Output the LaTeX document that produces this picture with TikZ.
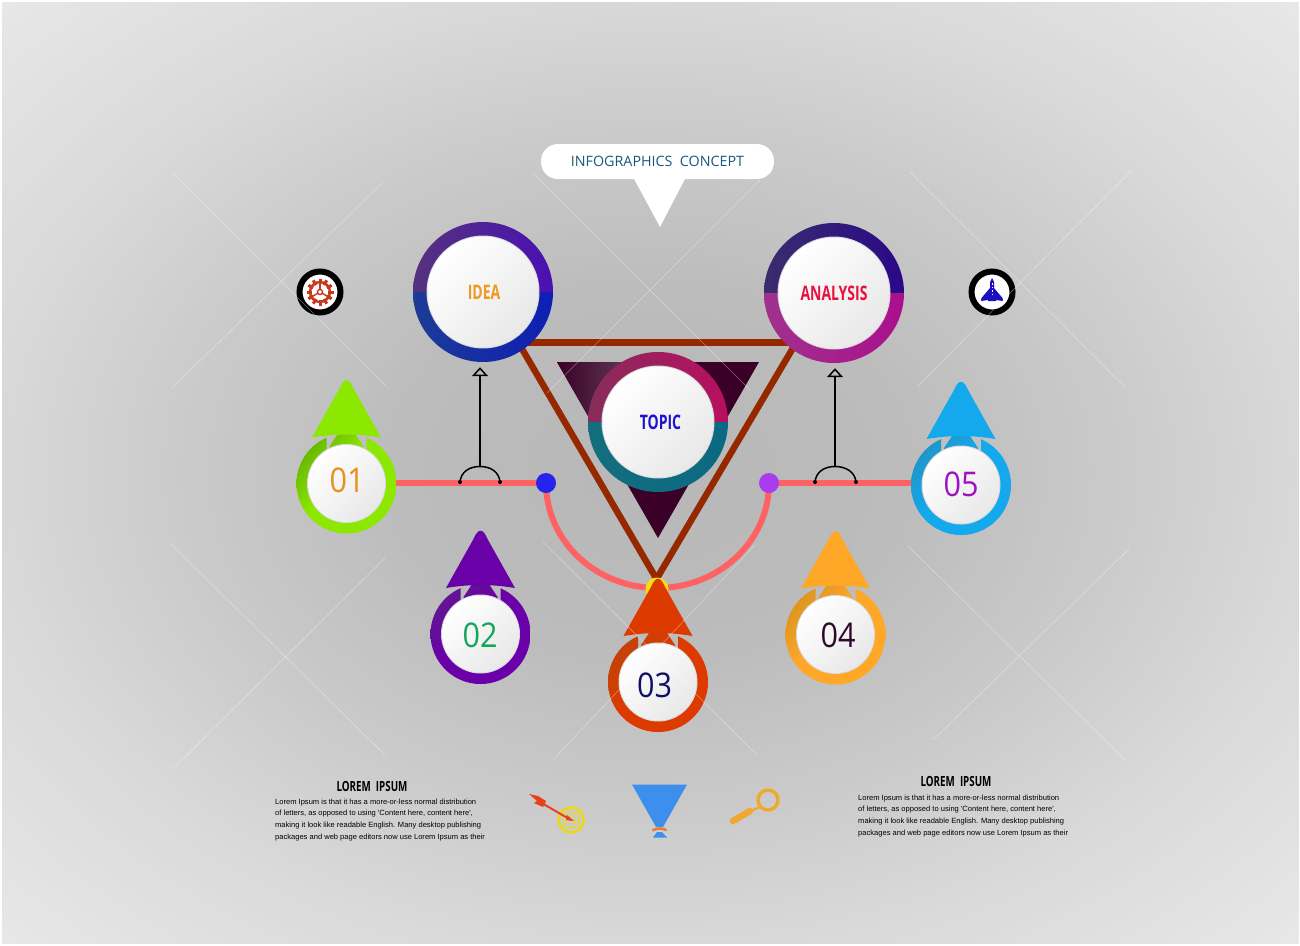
\documentclass[tikz,border=0pt]{standalone}
\usepackage{fontspec}
\setmainfont{Open Sans}
\newfontfamily\numfont[FakeStretch=0.9]{Open Sans}
\newfontfamily\condfont[FakeStretch=0.7]{Open Sans}
\newfontfamily\bodyfont{Liberation Sans}
\usetikzlibrary{arrows.meta,calc}
\definecolor{redline}{HTML}{FF6262}
\definecolor{brownline}{HTML}{962800}
\definecolor{gearred}{HTML}{C8391C}
\definecolor{rocketblue}{HTML}{1A10C0}
\definecolor{bubbletext}{HTML}{1A5A78}
\definecolor{dotblue}{HTML}{2424EE}
\definecolor{dotpurple}{HTML}{A83CEE}
\definecolor{darkl}{HTML}{5E3850}
\definecolor{darkr}{HTML}{3A0028}
\definecolor{capyellow}{HTML}{F5E010}
\definecolor{discedge}{HTML}{D8D8DE}
\definecolor{ideatl}{HTML}{55327D}
\definecolor{ideatr}{HTML}{4A10B4}
\definecolor{ideabl}{HTML}{1C3C96}
\definecolor{ideabr}{HTML}{0E1EB4}
\definecolor{ideatx}{HTML}{F0981E}
\definecolor{anatl}{HTML}{3A2D6E}
\definecolor{anatr}{HTML}{2A0887}
\definecolor{anabl}{HTML}{A0328C}
\definecolor{anabr}{HTML}{AA0F8C}
\definecolor{anatx}{HTML}{E8103C}
\definecolor{toptl}{HTML}{872D5A}
\definecolor{toptr}{HTML}{B90F5F}
\definecolor{topbl}{HTML}{146E7D}
\definecolor{topbr}{HTML}{0A6982}
\definecolor{toptx}{HTML}{2010D0}
\definecolor{ma}{HTML}{8CE800}
\definecolor{da}{HTML}{468C00}
\definecolor{ta}{HTML}{E8901A}
\definecolor{mb}{HTML}{6A00A8}
\definecolor{db}{HTML}{5A2A80}
\definecolor{tb}{HTML}{10A858}
\definecolor{mc}{HTML}{DD3A00}
\definecolor{dc}{HTML}{AA4A10}
\definecolor{tc}{HTML}{10106A}
\definecolor{md}{HTML}{FFA828}
\definecolor{dd}{HTML}{BE8218}
\definecolor{td}{HTML}{30082A}
\definecolor{me}{HTML}{14A8EC}
\definecolor{de}{HTML}{2A86A8}
\definecolor{te}{HTML}{A010C0}
\definecolor{tgtyellow}{HTML}{E8D62A}
\definecolor{tgtred}{HTML}{E8401A}
\definecolor{funblue}{HTML}{3D8FEE}
\definecolor{funorange}{HTML}{E87832}
\definecolor{lensc}{HTML}{F0A830}
\definecolor{ringmain}{HTML}{000000}
\definecolor{ringdark}{HTML}{000000}
\pgfdeclareverticalshading[ringmain,ringdark]{ringshade}{100bp}{%
  color(0bp)=(ringmain);color(55bp)=(ringmain);color(95bp)=(ringdark);color(100bp)=(ringdark)}
\tikzset{
  disc/.style={circle,inner sep=0pt,top color=white,middle color=white,bottom color=black!9,shading angle=45},
  ringlabel/.style={font=\condfont\bfseries\fontsize{20}{20}\selectfont},
  numlabel/.style={font=\numfont\fontsize{34}{34}\selectfont,inner sep=0pt},
  marker/.style={circle,inner sep=0pt,minimum size=20pt},
  iconring/.style={circle,draw=black,line width=6pt,fill=white,inner sep=0pt,minimum size=41pt},
  holder/.style={circle,inner sep=0pt,minimum size=140pt},
  wire/.style={draw=redline,line width=6pt},
  frame/.style={draw=brownline,line width=7pt},
  leg/.style={draw=brownline,line width=6.5pt},
  hump/.style={draw=black,line width=1.5pt},
  pointer/.style={draw=black,line width=1.5pt,-{Triangle[open,length=9pt,width=16pt]},shorten >=5pt},
  diag/.style={draw=white,opacity=.38,line width=.6pt},
  bodytext/.style={font=\bodyfont\fontsize{7.55}{11.8}\selectfont,align=left,anchor=north west,inner sep=0pt,text=black},
  headtext/.style={font=\condfont\bfseries\fontsize{14}{14}\selectfont,text=black},
}
% split ring: name, x, y, top-left, top-right, bottom-left, bottom-right, text colour, text
\newcommand{\splitring}[9]{%
  \begin{scope}
    \clip (#2,#3) circle[radius=70];
    \shade[left color=#4,right color=#5] (#2-70,#3-70) rectangle (#2+70,#3);
    \shade[left color=#6,right color=#7] (#2-70,#3) rectangle (#2+70,#3+70);
  \end{scope}
  \fill[discedge] (#2,#3) circle[radius=56.5];
  \node[disc,minimum size=111pt,text=#8,ringlabel] (#1) at (#2,#3) {#9};
  \node[holder] (#1ring) at (#2,#3) {};
}
% number ring with arrow head: name, x, y, main, dark, text colour, text, text x, text y
\newcommand{\numring}[9]{%
  \colorlet{ringmain}{#4}\colorlet{ringdark}{#5}%
  \begin{scope}[shift={(#2,#3)}]
    \begin{scope}
      \clip (-60,60) -- (-60,-70) -- (-20,-70) -- (-20,-20) -- (-17,-20) -- (-17,-37)
        -- (-5,-55) -- (-5,-70) -- (5,-70) -- (5,-55) -- (17,-37) -- (17,-20) -- (20,-20)
        -- (20,-70) -- (60,-70) -- (60,60) -- cycle;
      \clip (0,0) circle[radius=50];
      \shade[shading=ringshade,shading angle=50] (-50,-50) rectangle (50,50);
    \end{scope}
    \fill[discedge] (0,0) circle[radius=39.5];
    \node[disc,minimum size=77pt] (#1) at (0,0) {};
    \fill[#4] (-34.5,-46) -- (-7,-95) .. controls (-2.5,-106) and (2.5,-106) .. (7,-95)
      -- (34.5,-46) .. controls (10,-50) and (-10,-50) .. cycle;
  \end{scope}
  \node[numlabel,text=#6] (#1t) at (#8,#9) {#7};
}
\begin{document}
\begin{tikzpicture}[x=1pt,y=-1pt]
\useasboundingbox (0,0) rectangle (1300,945);
\fill[white] (0,0) rectangle (1300,945);
\begin{scope}
  \clip (2,2) rectangle (1298,943);
  \definecolor{bgstep}{gray}{.92}
  \fill[bgstep] (2,2) rectangle (1298,943);
  \foreach \i in {0,1,...,150}{
    \pgfmathsetmacro{\t}{1.5*(1-\i/151)}
    \pgfmathsetmacro{\g}{\t<0.4 ? .718+.05*\t : (\t<0.73 ? .738+.17*(\t-.4) : (\t<1 ? .794+.2*(\t-.73) : .848+.144*(\t-1)))}
    \definecolor{bgstep}{gray}{\g}
    \fill[bgstep] (650,472) ellipse[x radius=650*\t, y radius=472*\t];
  }
\end{scope}

% speech bubble
\fill[white] (632,175) -- (687,175) -- (660,227) -- cycle;
\node[fill=white,rounded corners=17pt,minimum width=233pt,minimum height=35pt,inner sep=0pt,
  text=bubbletext,font=\fontsize{14.3}{14.3}\selectfont] (bubble) at (657.5,161.5) {INFOGRAPHICS\ \ CONCEPT};

% named points of the frame
\coordinate (ftl) at (512,342);
\coordinate (ftr) at (803,342);
\coordinate (apex) at (656.5,579);
\coordinate (legl) at (518,342);
\coordinate (legr) at (796.5,342);

% icons
\node[iconring] (gear) at (320,292) {};
\foreach \a in {0,30,...,330}{
  \fill[gearred,rotate around={\a:(gear.center)}] (318.5,278.5) rectangle (321.5,284);
}
\draw[gearred,line width=2.4pt] (gear.center) circle[radius=10];
\foreach \a in {90,210,330}{
  \draw[gearred,line width=1.4pt] (gear.center) -- ++(\a:-9);
}
\draw[gearred,line width=1.4pt,fill=white] (gear.center) circle[radius=2.5];

\node[iconring] (rocket) at (992,292) {};
\fill[rocketblue] (992,278) -- (994,282) -- (994,288) -- (1002.5,298) -- (1003,301) -- (996,300)
  -- (996,301) -- (988,301) -- (988,300) -- (981,301) -- (981.5,298) -- (990,288) -- (990,282) -- cycle;
\draw[white,line width=.6pt,dash pattern=on 1.5pt off 2pt] (992,283) -- (992,296);

% wires
\coordinate (w1) at (396,483);
\coordinate (w5) at (911,483);
\coordinate (bluec) at (546,483);
\coordinate (purplec) at (769,483);
\draw[wire] (w1) -- (bluec);
\draw[wire] (purplec) -- (w5);
\draw[wire] (bluec) arc[start angle=180,end angle=0,x radius=111.5,y radius=105];
\node[marker,fill=dotblue] (blue) at (bluec) {};
\node[marker,fill=dotpurple] (purple) at (purplec) {};

% brown frame and dark triangle
\draw[frame] (ftl) -- (ftr);
\draw[leg] (legl) -- (apex);
\draw[leg] (legr) -- (apex);
\fill[darkr] (557,362) -- (759,362) -- (658,538) -- cycle;
\shade[left color=darkr,right color=darkl] (557,362) -- (625,362) -- (625,480) -- cycle;

% yellow cap at the apex
\fill[capyellow] (657,589) circle[radius=11.5];

% big rings
\splitring{idea}{483}{292}{ideatl}{ideatr}{ideabl}{ideabr}{ideatx}{\hspace{2pt}IDEA}
\splitring{analysis}{834}{293}{anatl}{anatr}{anabl}{anabr}{anatx}{ANALYSIS}
\splitring{topic}{658}{422}{toptl}{toptr}{topbl}{topbr}{toptx}{\hspace{5pt}TOPIC}

% small connectors
\coordinate (ha1) at (460,482); \coordinate (hb1) at (500,482); \coordinate (ht1) at (480,466.5);
\coordinate (ha2) at (815,482); \coordinate (hb2) at (856,482); \coordinate (ht2) at (835,466.5);
\draw[hump] (ha1) .. controls (461,472) and (469,466.5) .. (ht1) .. controls (491,466.5) and (499,472) .. (hb1);
\draw[hump] (ha2) .. controls (816,472) and (824,466.5) .. (ht2) .. controls (846,466.5) and (855,472) .. (hb2);
\fill[black] (ha1) circle[radius=2] (hb1) circle[radius=2] (ha2) circle[radius=2] (hb2) circle[radius=2];
\draw[pointer] (ht1) -- (ht1 |- idearing.south);
\draw[pointer] (ht2) -- (ht2 |- analysisring.south);

% numbered rings
\numring{n1}{346.5}{483.5}{ma}{da}{ta}{01}{347}{480}
\numring{n2}{480.5}{634}{mb}{db}{tb}{02}{480}{635}
\numring{n3}{658}{682}{mc}{dc}{tc}{03}{654.5}{685.5}
\numring{n4}{835.5}{634.5}{md}{dd}{td}{04}{838}{635.5}
\numring{n5}{961}{485}{me}{de}{te}{05}{961}{484}

% thin diagonal lines
\foreach \xa/\ya/\xb/\yb in {172/172/387/387,172/388/383/182,533/173/750/390,547/393/760/180,
  910/172/1125/387,917/387/1132/170,170/543/385/755,172/770/385/558,543/542/757/755,553/760/755/545,
  907/545/1125/760,933/740/1130/548}{
  \draw[diag] (\xa,\ya) -- (\xb,\yb);
}

% bottom text
\node[headtext] (h1) at (372,786) {LOREM\ \ IPSUM};
\node[bodytext] (b1) at (275,798.5) {Lorem Ipsum is that it has a more-or-less normal distribution\\of letters, as opposed to using 'Content here, content here',\\making it look like readable English. Many desktop publishing\\packages and web page editors now use Lorem Ipsum as their};
\node[headtext] (h2) at (956,781.5) {LOREM\ \ IPSUM};
\node[bodytext] (b2) at (858,794.5) {Lorem Ipsum is that it has a more-or-less normal distribution\\of letters, as opposed to using 'Content here, content here',\\making it look like readable English. Many desktop publishing\\packages and web page editors now use Lorem Ipsum as their};

% target icon
\foreach \r/\w in {12.5/3,8/1.3,4.5/1}{
  \draw[tgtyellow,line width=\w pt] (571,820) circle[radius=\r];
}
\draw[tgtred,line width=2pt] (540,802) -- (571,820);
\fill[tgtred] (529,794) -- (538,796) -- (546,801) -- (543,807) -- (534,803) -- (537,801) -- cycle;
\fill[tgtred] (574,821) -- (567,815) -- (566,820) -- cycle;

% funnel icon
\fill[funblue] (632,784.5) -- (687,784.5) -- (663,827) -- (656,827) -- cycle;
\fill[funblue] (657,832) -- (662,832) -- (667,837.5) -- (653,837.5) -- cycle;
\draw[funorange,line width=2.4pt,line cap=round] (653,830) .. controls (658,828) and (662,828) .. (666,830);

% magnifier icon
\draw[lensc,line width=3.5pt] (768,800) circle[radius=10];
\draw[lensc,line width=2.2pt] (760,807) -- (748,812);
\draw[lensc,line width=6.5pt,line cap=round] (750,811) -- (733,821);
\end{tikzpicture}
\end{document}
